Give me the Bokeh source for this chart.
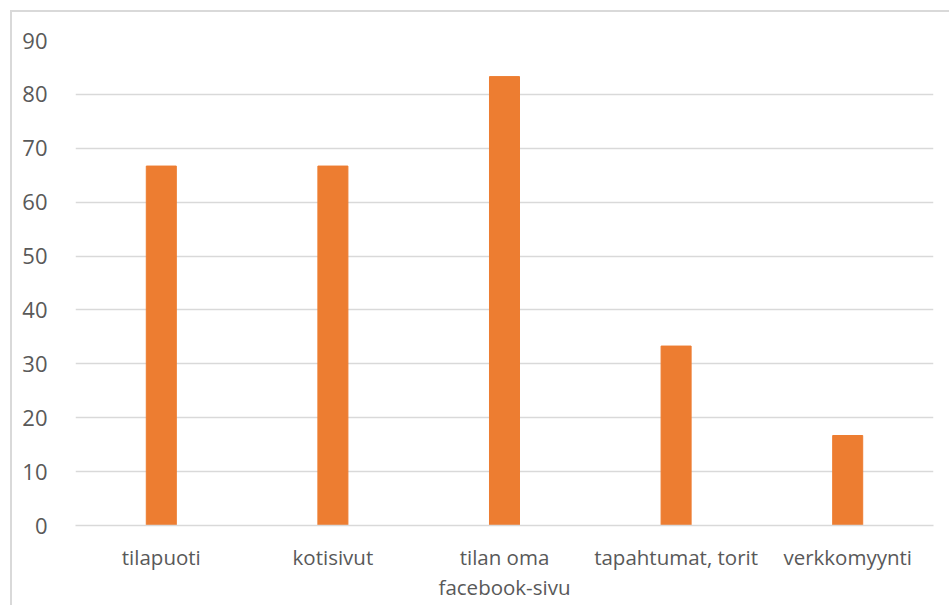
from bokeh.plotting import figure
from bokeh.models import ColumnDataSource, FactorRange, FixedTicker, CategoricalAxis, CustomJSTickFormatter
from bokeh.embed import file_html
from bokeh.resources import INLINE

categories = ["tilapuoti", "kotisivut", "tilan oma facebook-sivu", "tapahtumat, torit", "verkkomyynti"]
label_line1 = ["tilapuoti", "kotisivut", "tilan oma", "tapahtumat, torit", "verkkomyynti"]
label_line2 = ["", "", "facebook-sivu", "", ""]
values = [66.7, 66.7, 83.3, 33.3, 16.7]
y_ticks = [0, 10, 20, 30, 40, 50, 60, 70, 80, 90]

source = ColumnDataSource(data=dict(cat=categories, val=values))

p = figure(x_range=FactorRange(*categories), y_range=(0, 90),
           width=939, height=595, output_backend="svg", toolbar_location=None,
           min_border_left=63, min_border_right=18, min_border_top=28, min_border_bottom=82)
p.styles = {"margin-left": "10px", "margin-top": "10px",
            "border-left": "2px solid #d9d9d9", "border-top": "2px solid #d9d9d9"}

p.vbar(x="cat", top="val", width=0.175, source=source, color="#ED7D31")

p.outline_line_color = None
p.background_fill_color = "white"
p.border_fill_color = "white"

p.xgrid.grid_line_color = None
p.ygrid.ticker = FixedTicker(ticks=y_ticks)
p.ygrid.grid_line_color = "#d9d9d9"
p.ygrid.grid_line_width = 1.5

p.yaxis.ticker = FixedTicker(ticks=y_ticks)
p.yaxis.axis_line_color = None
p.yaxis.major_tick_line_color = None
p.yaxis.minor_tick_line_color = None
p.yaxis.major_label_text_font = "Open Sans"
p.yaxis.major_label_text_font_size = "22px"
p.yaxis.major_label_text_color = "#595959"
p.yaxis.major_label_standoff = 22

js = "const i = factors.indexOf(tick); return i >= 0 ? texts[i] : tick;"

def style_x(ax, standoff, texts):
    ax.major_tick_line_color = None
    ax.minor_tick_line_color = None
    ax.major_label_text_font = "Open Sans"
    ax.major_label_text_font_size = "20.5px"
    ax.major_label_text_color = "#595959"
    ax.major_label_standoff = standoff
    ax.formatter = CustomJSTickFormatter(args=dict(factors=categories, texts=texts), code=js)

xa = p.xaxis[0]
xa.axis_line_color = "#d9d9d9"
xa.axis_line_width = 1.5
style_x(xa, 11, label_line1)

xa2 = CategoricalAxis()
xa2.axis_line_color = None
style_x(xa2, -7, label_line2)
p.add_layout(xa2, "below")

open("out.html", "w").write(file_html(p, INLINE))
